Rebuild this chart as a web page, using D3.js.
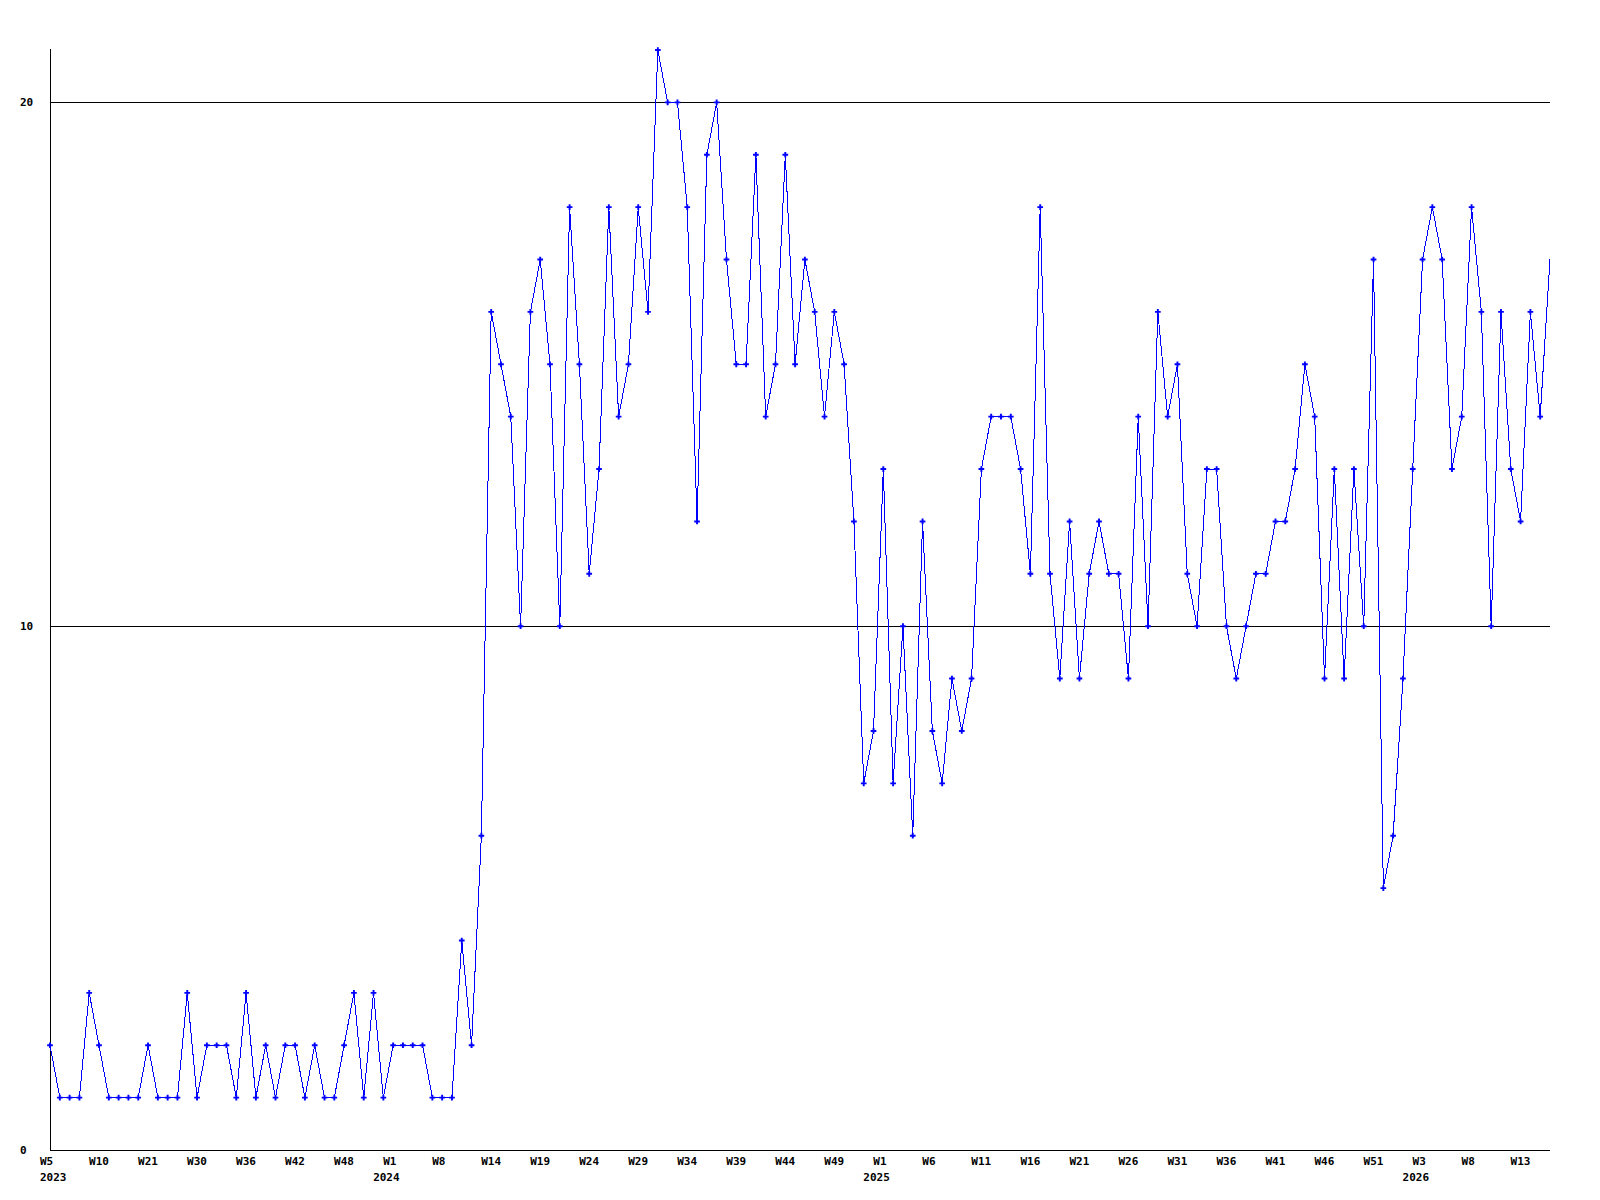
<!DOCTYPE html>
<html>
    <meta charset="utf-8">
    <script src="https://d3js.org/d3.v7.min.js"></script>

    <style>
        body { margin: 0; background: #fff; }
        text {
          font-family: "DejaVu Sans Mono", "Liberation Mono", monospace;
          font-weight: bold;
          font-size: 11px;
          fill: #000;
        }
    </style>

    <div id="chart"></div>

    <script>

        // weekly values, one per point (W5 2023 .. W16 2026, some weeks missing)
        var values = [
            2,1,1,1,3,2,1,1,1,1,
            2,1,1,1,3,1,2,2,2,1,
            3,1,2,1,2,2,1,2,1,1,
            2,3,1,3,1,2,2,2,2,1,
            1,1,4,2,6,16,15,14,10,16,
            17,15,10,18,15,11,13,18,14,15,
            18,16,21,20,20,18,12,19,20,17,
            15,15,19,14,15,19,15,17,16,14,
            16,15,12,7,8,13,7,10,6,12,
            8,7,9,8,9,13,14,14,14,13,
            11,18,11,9,12,9,11,12,11,11,
            9,14,10,16,14,15,11,10,13,13,
            10,9,10,11,11,12,12,13,15,14,
            9,13,9,13,10,17,5,6,9,13,
            17,18,17,13,14,18,16,10,16,13,
            12,16,14,17
        ];

        // x tick labels, shown under every 5th point
        var tickWeeks = ["W5","W10","W21","W30","W36","W42","W48","W1","W8","W14",
                         "W19","W24","W29","W34","W39","W44","W49","W1","W6","W11",
                         "W16","W21","W26","W31","W36","W41","W46","W51","W3","W8","W13"];
        var tickYears = ["2023","","","","","","","2024","","",
                         "","","","","","","","2025","","",
                         "","","","","","","","","2026","",""];
        var tickStep = 5;

        // y grid / labels
        var yTicks = [0, 10, 20];
        var yMax = 21;

        var W = 1600, H = 1200;
        var plotLeft = 50, plotRight = 1550, plotTop = 50, plotBottom = 1150;

        var svg = d3.select("#chart")
            .append("svg")
                .attr("width", W)
                .attr("height", H);

        var x = d3.scaleLinear()
            .domain([0, values.length - 1])
            .range([plotLeft, plotRight]);

        var y = d3.scaleLinear()
            .domain([0, yMax])
            .range([plotBottom, plotTop]);

        // grid lines at 10, 20
        svg.append("g")
            .selectAll("line")
            .data(yTicks.filter(function(d){ return d > 0; }))
            .enter()
            .append("line")
                .attr("x1", plotLeft)
                .attr("x2", plotRight)
                .attr("y1", function(d){ return Math.round(y(d)) + 0.5; })
                .attr("y2", function(d){ return Math.round(y(d)) + 0.5; })
                .attr("stroke", "#000")
                .attr("shape-rendering", "crispEdges");

        // axes lines
        svg.append("line")
            .attr("x1", plotLeft + 0.5).attr("x2", plotLeft + 0.5)
            .attr("y1", plotTop - 1).attr("y2", plotBottom + 0.5)
            .attr("stroke", "#000")
            .attr("shape-rendering", "crispEdges");
        svg.append("line")
            .attr("x1", plotLeft).attr("x2", plotRight)
            .attr("y1", plotBottom + 0.5).attr("y2", plotBottom + 0.5)
            .attr("stroke", "#000")
            .attr("shape-rendering", "crispEdges");

        // y labels
        svg.append("g")
            .selectAll("text")
            .data(yTicks)
            .enter()
            .append("text")
                .attr("x", 20)
                .attr("y", function(d){ return y(d) + 4; })
                .text(function(d){ return d; });

        // x labels (week + year)
        var xl = svg.append("g");
        xl.selectAll("text.wk")
            .data(tickWeeks)
            .enter()
            .append("text")
                .attr("class", "wk")
                .attr("x", function(d, i){ return x(i * tickStep) - 10; })
                .attr("y", 1165)
                .text(function(d){ return d; });
        xl.selectAll("text.yr")
            .data(tickYears)
            .enter()
            .append("text")
                .attr("class", "yr")
                .attr("x", function(d, i){ return x(i * tickStep) - (i == 0 ? 10 : 20); })
                .attr("y", 1181)
                .text(function(d){ return d; });

        // the line
        var line = d3.line()
            .x(function(d, i){ return x(i); })
            .y(function(d){ return y(d); });

        svg.append("path")
            .datum(values)
            .attr("d", line)
            .attr("fill", "none")
            .attr("stroke", "#0000ff")
            .attr("stroke-width", 1)
            .attr("shape-rendering", "crispEdges");

        // point markers (last one has none)
        var cross = d3.symbol().type(d3.symbolCross).size(18);
        svg.append("g")
            .selectAll("path")
            .data(values.slice(0, values.length - 1))
            .enter()
            .append("path")
                .attr("d", cross)
                .attr("transform", function(d, i){ return "translate(" + x(i) + "," + y(d) + ")"; })
                .attr("fill", "#0000ff");

    </script>

</html>
